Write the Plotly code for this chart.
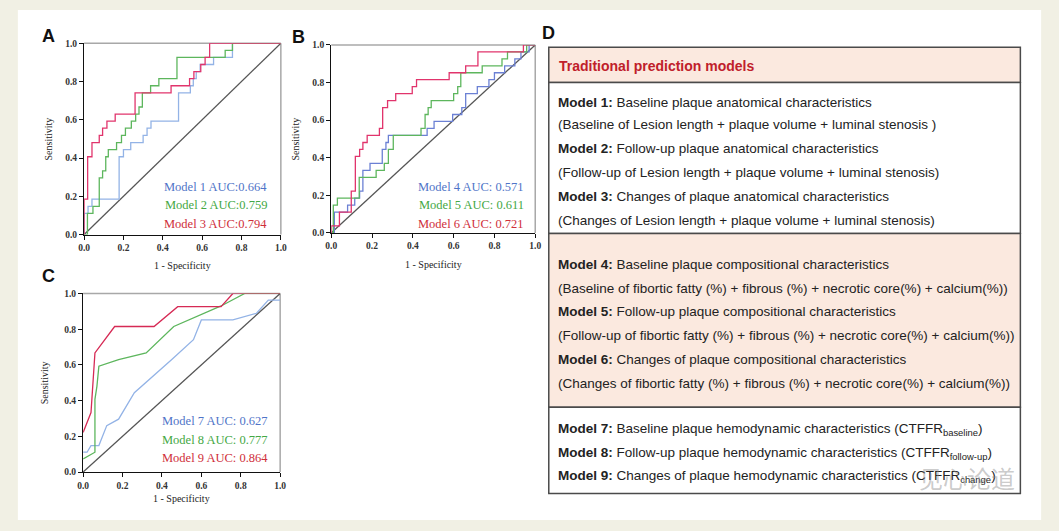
import plotly.graph_objects as go

W, H = 1059, 531

# ---------------- data ----------------
# Panel A (step ROC curves: x = FPR where step rises, y = new TPR)
a_m1_x = [0, 0, 0.02, 0.04, 0.178, 0.2, 0.237, 0.3, 0.32, 0.34, 0.48, 0.54, 0.555, 0.57, 0.59, 0.658, 0.754, 1.0]
a_m1_y = [0, 0.111, 0.148, 0.185, 0.407, 0.444, 0.481, 0.519, 0.556, 0.593, 0.741, 0.778, 0.815, 0.852, 0.889, 0.926, 1.0, 1.0]
a_m2_x = [0, 0.017, 0.045, 0.077, 0.094, 0.11, 0.123, 0.165, 0.19, 0.21, 0.24, 0.262, 0.279, 0.296, 0.338, 0.38, 0.472, 0.717, 0.754, 1.0]
a_m2_y = [0, 0.111, 0.148, 0.296, 0.333, 0.407, 0.444, 0.481, 0.519, 0.556, 0.593, 0.63, 0.667, 0.741, 0.778, 0.815, 0.926, 0.963, 1.0, 1.0]
a_m3_x = [0, 0, 0.018, 0.04, 0.077, 0.094, 0.116, 0.158, 0.259, 0.442, 0.536, 0.558, 0.593, 0.615, 0.638, 1.0]
a_m3_y = [0, 0.185, 0.407, 0.481, 0.519, 0.556, 0.593, 0.63, 0.741, 0.778, 0.815, 0.852, 0.889, 0.926, 1.0, 1.0]

# Panel B
b_m4_x = [0, 0.015, 0.08, 0.115, 0.139, 0.155, 0.19, 0.25, 0.268, 0.28, 0.47, 0.504, 0.595, 0.64, 0.659, 0.716, 0.773, 0.8, 0.85, 0.9, 0.93, 0.97, 1.0]
b_m4_y = [0, 0.111, 0.148, 0.185, 0.222, 0.333, 0.37, 0.444, 0.481, 0.519, 0.556, 0.593, 0.63, 0.667, 0.741, 0.778, 0.815, 0.852, 0.889, 0.926, 0.963, 1.0, 1.0]
b_m5_x = [0, 0.01, 0.03, 0.137, 0.22, 0.26, 0.28, 0.304, 0.44, 0.46, 0.475, 0.49, 0.6, 0.62, 0.635, 0.74, 0.837, 0.864, 0.958, 1.0]
b_m5_y = [0, 0.148, 0.185, 0.296, 0.333, 0.37, 0.444, 0.519, 0.556, 0.63, 0.667, 0.704, 0.741, 0.778, 0.852, 0.889, 0.926, 0.963, 1.0, 1.0]
b_m6_x = [0, 0, 0.04, 0.098, 0.118, 0.139, 0.155, 0.176, 0.236, 0.252, 0.276, 0.316, 0.397, 0.418, 0.578, 0.659, 0.719, 0.942, 1.0]
b_m6_y = [0, 0.037, 0.111, 0.222, 0.407, 0.444, 0.481, 0.519, 0.556, 0.667, 0.704, 0.741, 0.778, 0.815, 0.852, 0.889, 0.963, 1.0, 1.0]

# Panel C (polyline ROC curves)
c_m7_x = [0, 0.02, 0.04, 0.08, 0.12, 0.18, 0.26, 0.35, 0.45, 0.56, 0.6, 0.76, 0.88, 0.94, 1.0]
c_m7_y = [0.111, 0.111, 0.148, 0.148, 0.26, 0.296, 0.444, 0.53, 0.63, 0.741, 0.852, 0.852, 0.889, 0.963, 0.963]
c_m8_x = [0, 0.06, 0.06, 0.07, 0.08, 0.18, 0.32, 0.46, 0.7, 0.82, 1.0]
c_m8_y = [0.074, 0.111, 0.407, 0.48, 0.593, 0.63, 0.667, 0.815, 0.93, 1.0, 1.0]
c_m9_x = [0, 0.04, 0.06, 0.16, 0.36, 0.48, 0.7, 0.76, 1.0]
c_m9_y = [0.222, 0.333, 0.667, 0.815, 0.815, 0.926, 0.926, 1.0, 1.0]

a_labels = ["Model 1 AUC:0.664", "Model 2 AUC:0.759", "Model 3 AUC:0.794"]
b_labels = ["Model 4 AUC: 0.571", "Model 5 AUC: 0.611", "Model 6 AUC: 0.721"]
c_labels = ["Model 7 AUC: 0.627", "Model 8 AUC: 0.777", "Model 9 AUC: 0.864"]

tick_vals = [0, 0.2, 0.4, 0.6, 0.8, 1.0]
tick_text = ["0.0", "0.2", "0.4", "0.6", "0.8", "1.0"]

table_header = "Traditional prediction models"
table_sec1 = [
    "<b>Model 1:</b> Baseline plaque anatomical characteristics",
    "(Baseline of Lesion length + plaque volume + luminal stenosis )",
    "<b>Model 2:</b> Follow-up plaque anatomical characteristics",
    "(Follow-up of Lesion length + plaque volume + luminal stenosis)",
    "<b>Model 3:</b> Changes of plaque anatomical characteristics",
    "(Changes of Lesion length + plaque volume + luminal stenosis)",
]
table_sec2 = [
    "<b>Model 4:</b> Baseline plaque compositional characteristics",
    "(Baseline of fibortic fatty (%) + fibrous (%) + necrotic core(%) + calcium(%))",
    "<b>Model 5:</b> Follow-up plaque compositional characteristics",
    "(Follow-up of fibortic fatty (%) + fibrous (%) + necrotic core(%) + calcium(%))",
    "<b>Model 6:</b> Changes of plaque compositional characteristics",
    "(Changes of fibortic fatty (%) + fibrous (%) + necrotic core(%) + calcium(%))",
]
table_sec3 = [
    "<b>Model 7:</b> Baseline plaque hemodynamic characteristics (CTFFR<sub>baseline</sub>)",
    "<b>Model 8:</b> Follow-up plaque hemodynamic characteristics (CTFFR<sub>follow-up</sub>)",
    "<b>Model 9:</b> Changes of plaque hemodynamic characteristics (CTFFR<sub>change</sub>)",
]
watermark = "见心论道"

# ---------------- styling ----------------
BLUE_A, BLUE_B = "#93b3e6", "#6b80d4"
GREEN = "#5db65d"
RED = "#e1346c"
RED_C = "#d62a55"
TXT_BLUE, TXT_GREEN, TXT_RED = "#4f74c8", "#44a844", "#cf2e3a"
PEACH = "#fbe9df"
BG = "#f1f0e4"
SERIF = "Liberation Serif"
SANS = "Liberation Sans"


def px(x):
    return x / W


def py(y):
    return 1 - y / H


fig = go.Figure()

panels = {
    "A": dict(xa="x", ya="y", xd=[px(79), px(278)], yd=[py(234), py(39)]),
    "B": dict(xa="x2", ya="y2", xd=[px(329), px(535.3)], yd=[py(232.3), py(40.7)]),
    "C": dict(xa="x3", ya="y3", xd=[px(78), px(277.3)], yd=[py(476), py(294)]),
}


def add_curve(xs, ys, color, panel, shape):
    p = panels[panel]
    fig.add_trace(go.Scatter(x=xs, y=ys, mode="lines", xaxis=p["xa"], yaxis=p["ya"],
                             line=dict(color=color, width=1.3, shape=shape),
                             showlegend=False, hoverinfo="skip"))


for panel in ["A", "B", "C"]:
    add_curve([0, 1], [0, 1], "#555555", panel, "linear")

add_curve(a_m1_x, a_m1_y, BLUE_A, "A", "hv")
add_curve(a_m2_x, a_m2_y, GREEN, "A", "hv")
add_curve(a_m3_x, a_m3_y, RED, "A", "hv")
add_curve(b_m4_x, b_m4_y, BLUE_B, "B", "hv")
add_curve(b_m5_x, b_m5_y, GREEN, "B", "hv")
add_curve(b_m6_x, b_m6_y, RED, "B", "hv")
add_curve(c_m7_x, c_m7_y, BLUE_A, "C", "linear")
add_curve(c_m8_x, c_m8_y, GREEN, "C", "linear")
add_curve(c_m9_x, c_m9_y, RED_C, "C", "linear")

axis_common = dict(range=[0, 1], showgrid=False, zeroline=False, showline=True,
                   linecolor="#111", linewidth=1.3, ticks="outside", ticklen=4,
                   tickwidth=1, tickcolor="#111", tickvals=tick_vals, ticktext=tick_text,
                   tickfont=dict(family=SERIF, size=9.5, color="#333", weight="bold"),
                   fixedrange=True)

layout_axes = {}
for i, (name, p) in enumerate(panels.items()):
    suffix = "" if i == 0 else str(i + 1)
    layout_axes["xaxis" + suffix] = dict(axis_common, domain=p["xd"], anchor="y" + suffix)
    layout_axes["yaxis" + suffix] = dict(axis_common, domain=p["yd"], anchor="x" + suffix)

fig.update_layout(**layout_axes)

shapes = []
# white inner panel
shapes.append(dict(type="rect", xref="paper", yref="paper", x0=px(12), x1=px(1047),
                   y0=py(525), y1=py(5), fillcolor="white", line=dict(width=0), layer="below"))
# gray top/right frame of each plot
for i in range(3):
    suffix = "" if i == 0 else str(i + 1)
    xr, yr = "x" + suffix + " domain", "y" + suffix + " domain"
    shapes.append(dict(type="line", xref=xr, yref=yr, x0=0, x1=1, y0=1, y1=1,
                       line=dict(color="#a8a8a8", width=1.5), layer="below"))
    shapes.append(dict(type="line", xref=xr, yref=yr, x0=1, x1=1, y0=0, y1=1,
                       line=dict(color="#a8a8a8", width=1.5), layer="below"))

# table D
tx0, tx1 = px(549), px(1026)
for (y0, y1, fill) in [(43, 79, PEACH), (79, 233, "white"), (233, 410, PEACH), (410, 498, "white")]:
    shapes.append(dict(type="rect", xref="paper", yref="paper", x0=tx0, x1=tx1,
                       y0=py(y1), y1=py(y0), fillcolor=fill,
                       line=dict(color="#4a4a4a", width=1.5), layer="above"))

annotations = []


def ann(text, x, y, size, color, family=SANS, xanchor="left", angle=0, bold=False):
    annotations.append(dict(text=text, x=px(x), y=py(y), xref="paper", yref="paper",
                            showarrow=False, xanchor=xanchor, yanchor="middle",
                            textangle=angle,
                            font=dict(family=family, size=size, color=color,
                                      weight="bold" if bold else "normal")))


# panel letters
ann("A", 34, 32, 18, "#111", family="Liberation Sans", bold=True)
ann("B", 287, 33, 18, "#111", family="Liberation Sans", bold=True)
ann("C", 34, 276, 18, "#111", family="Liberation Sans", bold=True)
ann("D", 540, 29, 18, "#111", family="Liberation Sans", bold=True)

# axis titles
ann("Sensitivity", 43, (234 + 39) / 2, 10, "#222", family=SERIF, xanchor="center", angle=-90)
ann("Sensitivity", 293, (232.3 + 40.7) / 2, 10, "#222", family=SERIF, xanchor="center", angle=-90)
ann("Sensitivity", 39, (476 + 294) / 2, 10, "#222", family=SERIF, xanchor="center", angle=-90)
ann("1 - Specificity", (79 + 278) / 2, 266, 10, "#222", family=SERIF, xanchor="center")
ann("1 - Specificity", (329 + 535) / 2, 264, 10, "#222", family=SERIF, xanchor="center")
ann("1 - Specificity", (78 + 277) / 2, 503, 10, "#222", family=SERIF, xanchor="center")

# AUC labels
for lbls, xr, ys in [(a_labels, 266, [185, 204, 223]),
                     (b_labels, 526, [185, 204, 223]),
                     (c_labels, 267, [424, 443, 462])]:
    for t, yy, col in zip(lbls, ys, [TXT_BLUE, TXT_GREEN, TXT_RED]):
        ann(t, xr, yy, 12.5, col, family=SERIF, xanchor="right")

# table text
ann(table_header, 557, 62, 14, "#c0202a", bold=True)
for t, yy in zip(table_sec1, [99, 122, 146.5, 171, 195.5, 219.5]):
    ann(t, 556, yy, 13.5, "#222")
for t, yy in zip(table_sec2, [264, 288.5, 312.5, 337, 361, 385.5]):
    ann(t, 556, yy, 13.5, "#222")
for t, yy in zip(table_sec3, [433, 457.5, 481]):
    ann(t, 556, yy, 13.5, "#222")

# watermark (semi-transparent, over the last table line as in the source image)
ann(watermark, 972, 482, 24, "rgba(140,140,140,0.45)", family="Noto Sans CJK SC", xanchor="center")

fig.update_layout(width=W, height=H, margin=dict(l=0, r=0, t=0, b=0),
                  paper_bgcolor=BG, plot_bgcolor="white", shapes=shapes,
                  annotations=annotations, showlegend=False)

fig.write_html("out.html", config={"displayModeBar": False})

# remove the default page margin so the figure sits at the window's top-left corner
with open("out.html", "r", encoding="utf-8") as f:
    html = f.read()
html = html.replace("<head>", "<head><style>html,body{margin:0;padding:0;overflow:hidden;}</style>", 1)
with open("out.html", "w", encoding="utf-8") as f:
    f.write(html)
